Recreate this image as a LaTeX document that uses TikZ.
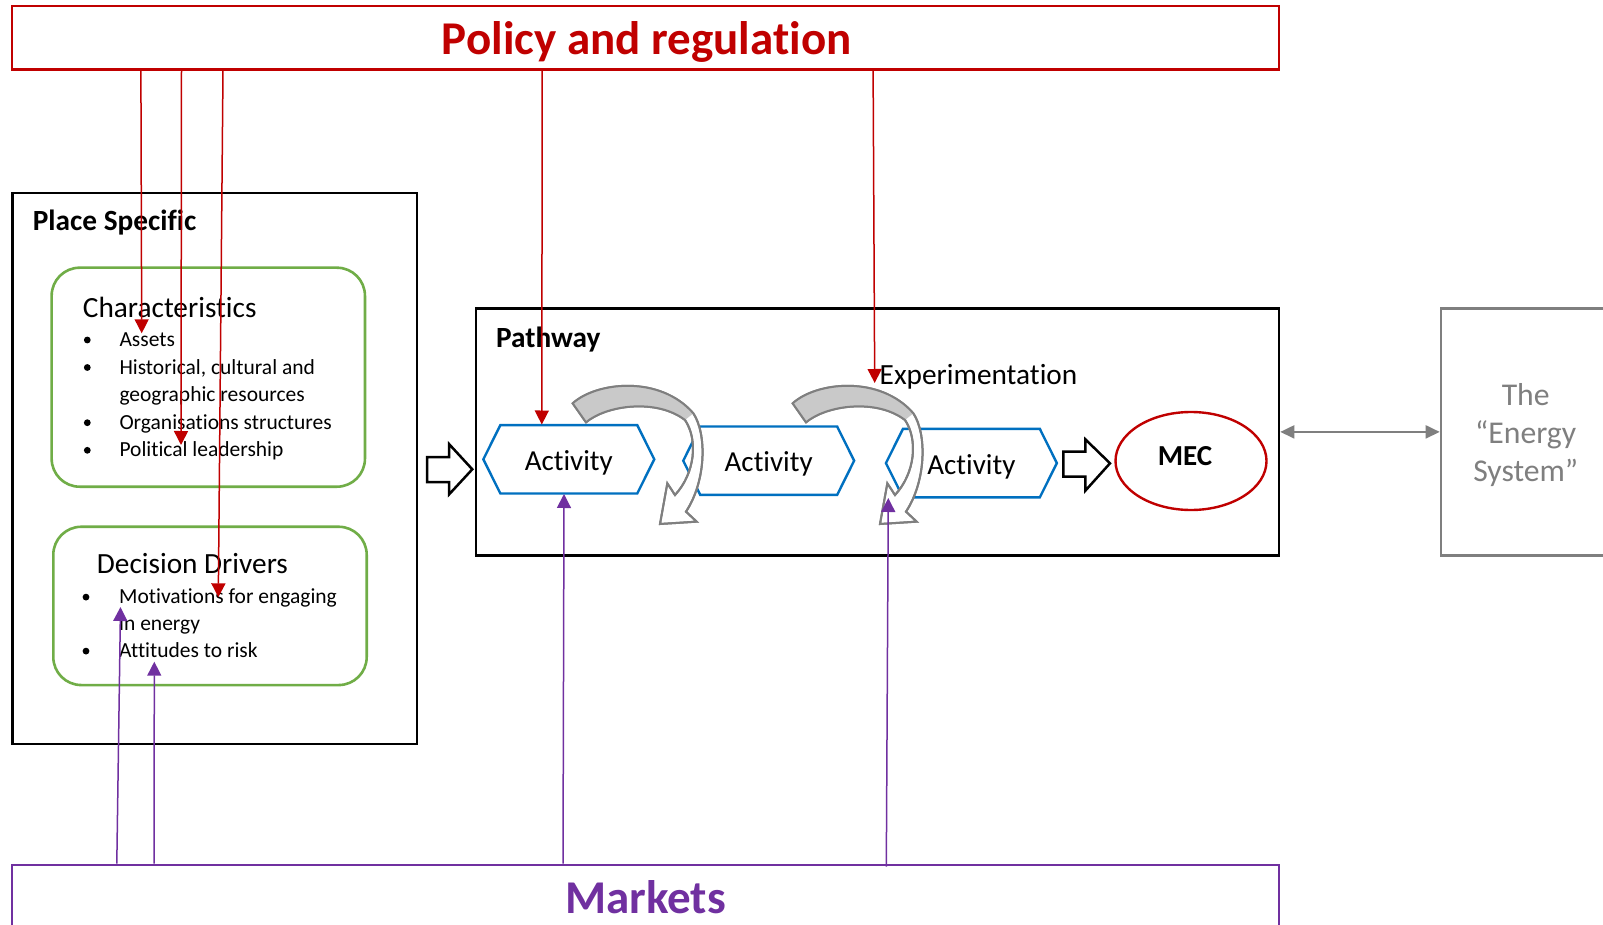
\documentclass[tikz,border=0pt]{standalone}
\usepackage{fontspec}
\setmainfont[Ligatures=NoCommon]{Carlito}
\usetikzlibrary{arrows.meta,shapes.geometric}
\definecolor{pred}{HTML}{C00000}
\definecolor{ppurple}{HTML}{7030A0}
\definecolor{pgreen}{HTML}{70AD47}
\definecolor{pblue}{HTML}{0070C0}
\definecolor{pgray}{HTML}{7F7F7F}
\definecolor{plight}{HTML}{C9C9C9}
\newcommand{\curvedarrow}{%
  \draw[curveline, fill=white]
    (38,100) .. controls (110,35) and (300,15) .. (400,130)
    .. controls (440,190) and (440,330) .. (378,425)
    -- (410,455) -- (300,462) -- (322,340) -- (345,375)
    .. controls (405,310) and (415,210) .. (375,150)
    .. controls (290,85) and (140,105) .. (78,157) -- cycle;
  \fill[plight]
    (38,100) .. controls (110,35) and (300,15) .. (400,130)
    -- (375,150) .. controls (290,85) and (140,105) .. (78,157) -- cycle;
  \draw[curveline]
    (38,100) .. controls (110,35) and (300,15) .. (400,130)
    .. controls (440,190) and (440,330) .. (378,425)
    -- (410,455) -- (300,462) -- (322,340) -- (345,375)
    .. controls (405,310) and (415,210) .. (375,150)
    .. controls (290,85) and (140,105) .. (78,157) -- cycle;
}
\newcommand{\hexof}[1]{%
  \draw[hexline] (#1.west) -- ([xshift=17pt]#1.north west) -- ([xshift=-17pt]#1.north east)
    -- (#1.east) -- ([xshift=-17pt]#1.south east) -- ([xshift=17pt]#1.south west) -- cycle;
}
\begin{document}
\begin{tikzpicture}[x=1pt,y=-1pt,
  box/.style={draw, inner sep=0pt},
  bigtitle/.style={font=\bfseries\fontsize{47}{56}\selectfont, anchor=base, inner sep=0pt},
  head/.style={font=\bfseries\fontsize{29.3}{35}\selectfont, anchor=base west, inner sep=0pt},
  sub/.style={font=\fontsize{29.3}{35}\selectfont, anchor=base west, inner sep=0pt},
  item/.style={font=\fontsize{21.5}{26}\selectfont, anchor=base west, inner sep=0pt},
  actbox/.style={minimum width=170.5pt, minimum height=68pt, inner sep=0pt},
  acttext/.style={font=\fontsize{29}{35}\selectfont, anchor=base, inner sep=0pt},
  hexline/.style={draw=pblue, line width=2.4pt, fill=white, line join=miter},
  curveline/.style={draw=pgray, line width=2pt, line join=miter},
  blockarrow/.style={draw=black, line width=2.5pt, fill=white, line join=miter},
  redarrow/.style={draw=pred, line width=1.5pt, -{Triangle[length=14pt,width=14pt]}},
  purplearrow/.style={draw=ppurple, line width=1.5pt, -{Triangle[length=14pt,width=14pt]}},
  dot/.style={fill=black}
]
\useasboundingbox (0,0) rectangle (1603,925);
\clip (0,0) rectangle (1603,925);
\fill[white] (0,0) rectangle (1603,925);

% Policy and regulation
\node[box, draw=pred, line width=2.6pt, minimum width=1267pt, minimum height=63.3pt] (policy) at (645.5,37.65) {};
\node[bigtitle, text=pred] (policytext) at (646.7,54.3) {Policy and regulation};

% Markets
\node[box, draw=ppurple, line width=2.6pt, minimum width=1267pt, minimum height=95pt] (markets) at (645.5,912.5) {};
\node[bigtitle, text=ppurple] (marketstext) at (645.5,913.3) {Markets};

% Place specific
\node[box, line width=2.6pt, minimum width=404.6pt, minimum height=551pt] (place) at (214.6,468.4) {};
\node[head] (placetext) at (32.7,231) {Place Specific};

\node[box, draw=pgreen, line width=2.6pt, rounded corners=28pt, minimum width=313.3pt, minimum height=219pt] (charbox) at (208.3,377.2) {};
\node[sub] (chartitle) at (82.7,317) {Characteristics};
\node[item] (c1) at (119.3,346.5) {Assets};
\node[item] (c2) at (119.3,374) {Historical, cultural and};
\node[item] (c3) at (119.3,401.6) {geographic resources};
\node[item] (c4) at (119.3,429.2) {Organisations structures};
\node[item] (c5) at (119.3,456.8) {Political leadership};
\foreach \yy in {346.5,374,429.2,456.8} \fill (87.3,\yy-6.5) circle (3.4pt);

\node[box, draw=pgreen, line width=2.6pt, rounded corners=28pt, minimum width=313.4pt, minimum height=158.3pt] (decbox) at (210,605.9) {};
\node[sub] (dectitle) at (96.7,573.6) {Decision Drivers};
\node[item] (d1) at (119,603.6) {Motivations for engaging};
\node[item] (d2) at (119,630.5) {in energy};
\node[item] (d3) at (119,657.6) {Attitudes to risk};
\foreach \yy in {603.6,657.6} \fill (86,\yy-6.5) circle (3.4pt);

% Pathway
\node[box, line width=2.6pt, minimum width=803pt, minimum height=247.2pt] (pathway) at (877.5,431.9) {};
\node[head] (pathtext) at (496,347) {Pathway};
\node[sub] (exper) at (879.5,384) {Experimentation};

% Activities
\node[actbox] (act1) at (568.8,459.3) {};
\node[actbox] (act2) at (768.7,460.7) {};
\node[actbox] (act3) at (971.4,463.1) {};
\hexof{act1}
\hexof{act2}
\hexof{act3}
\node[acttext] (t1) at ([yshift=-11pt]act1.center) {Activity};
\node[acttext] (t2) at ([yshift=-11pt]act2.center) {Activity};
\node[acttext] (t3) at ([yshift=-11pt]act3.center) {Activity};

% curved arrows
\begin{scope}[shift={(560,370)}, scale=1/3]
\curvedarrow
\end{scope}
\begin{scope}[shift={(780,370)}, scale=1/3]
\curvedarrow
\end{scope}

% block arrows
\draw[blockarrow] (427,457) -- (449,457) -- (449,444) -- (472.3,469.3) -- (449,494.5) -- (449,482) -- (427,482) -- cycle;
\draw[blockarrow] (1063.4,451.7) -- (1085.3,451.7) -- (1085.3,439.3) -- (1110,463.3) -- (1085.3,490.7) -- (1085.3,476.7) -- (1063.4,476.7) -- cycle;

% MEC
\node[draw=pred, line width=2.4pt, ellipse, minimum width=151pt, minimum height=98pt, inner sep=0pt] (mec) at (1191,461) {};
\node[font=\bfseries\fontsize{29}{35}\selectfont, anchor=base, inner sep=0pt] (mectext) at (1185,465.5) {MEC};

% Energy system
\node[box, draw=pgray, line width=2.6pt, minimum width=209pt, minimum height=247.2pt] (energy) at (1545.5,431.9) {};
\node[font=\fontsize{31.7}{38}\selectfont, text=pgray, anchor=base, inner sep=0pt] (es1) at (1525.7,405) {The};
\node[font=\fontsize{31.7}{38}\selectfont, text=pgray, anchor=base, inner sep=0pt] (es2) at (1525.7,443.3) {“Energy};
\node[font=\fontsize{31.7}{38}\selectfont, text=pgray, anchor=base, inner sep=0pt] (es3) at (1525.7,481.6) {System”};
\draw[draw=pgray, line width=2pt, {Triangle[length=14pt,width=13pt]}-{Triangle[length=14pt,width=13pt]}] (pathway.east) -- (energy.west);

% red arrows
\coordinate (r1e) at (141.7,333.3);
\coordinate (r2e) at (181,445);
\coordinate (r3e) at (218.3,597.3);
\coordinate (r4e) at (541.8,424.5);
\coordinate (r5e) at (874.7,383);
\draw[redarrow] ([xshift=130.2pt]policy.south west) -- (r1e);
\draw[redarrow] ([xshift=170.8pt]policy.south west) -- (r2e);
\draw[redarrow] ([xshift=212.3pt]policy.south west) -- (r3e);
\draw[redarrow] ([xshift=531.5pt]policy.south west) -- (r4e);
\draw[redarrow] ([xshift=862.4pt]policy.south west) -- (r5e);

% purple arrows
\coordinate (p1e) at (120.5,607);
\coordinate (p2e) at (154.3,661.7);
\coordinate (p3e) at (564,494);
\coordinate (p4e) at (888.3,498);
\draw[purplearrow] ([xshift=106.1pt]markets.north west) -- (p1e);
\draw[purplearrow] ([xshift=143.4pt]markets.north west) -- (p2e);
\draw[purplearrow] ([xshift=552.3pt]markets.north west) -- (p3e);
\draw[purplearrow] ([xshift=875.6pt,yshift=-3pt]markets.north west) -- (p4e);
\end{tikzpicture}
\end{document}
